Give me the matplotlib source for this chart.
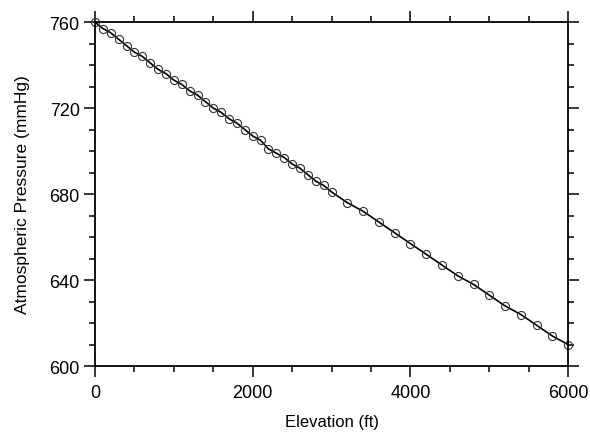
import numpy as np
from matplotlib import pyplot as plt
from matplotlib.ticker import MultipleLocator

plt.rcParams['font.family'] = ['Liberation Sans', 'DejaVu Sans']

# elevation (ft) and pressure (mmHg)
elevation = [0, 100, 200, 300, 400, 500, 600, 700, 800, 900,
             1000, 1100, 1200, 1300, 1400, 1500, 1600, 1700, 1800, 1900,
             2000, 2100, 2200, 2300, 2400, 2500, 2600, 2700, 2800, 2900,
             3000, 3200, 3400, 3600, 3800, 4000, 4200, 4400, 4600, 4800,
             5000, 5200, 5400, 5600, 5800, 6000]
pressure = [760, 757, 755, 752, 749, 746, 744, 741, 738, 736,
            733, 731, 728, 726, 723, 720, 718, 715, 713, 710,
            707, 705, 701, 699, 697, 694, 692, 689, 686, 684,
            681, 676, 672, 667, 662, 657, 652, 647, 642, 638,
            633, 628, 624, 619, 614, 610]

fig = plt.figure(figsize=(5.9, 4.35), dpi=100)
ax = fig.add_axes([0.161, 0.156, 0.802, 0.791])

ax.plot(elevation, pressure, color='black', linewidth=1.2, clip_on=False)
ax.plot(elevation, pressure, linestyle='none', marker='o', markersize=5.8,
        markerfacecolor='none', markeredgecolor='#333333', markeredgewidth=0.8, clip_on=False)

ax.set_xlim(0, 6000)
ax.set_ylim(600, 760)
ax.xaxis.set_major_locator(MultipleLocator(2000))
ax.xaxis.set_minor_locator(MultipleLocator(500))
ax.yaxis.set_major_locator(MultipleLocator(40))
ax.yaxis.set_minor_locator(MultipleLocator(10))

ax.tick_params(which='both', direction='out', top=True, right=True, width=1.1, labelsize=13)
ax.tick_params(which='major', length=8, pad=3)
ax.tick_params(which='minor', length=4.5)
ax.tick_params(axis='x', pad=5)
for s in ax.spines.values():
    s.set_linewidth(1.3)

ax.set_xlabel('Elevation (ft)', fontsize=12, labelpad=9)
ax.set_ylabel('Atmospheric Pressure (mmHg)', fontsize=12.5, labelpad=14)

plt.savefig('out.png')
